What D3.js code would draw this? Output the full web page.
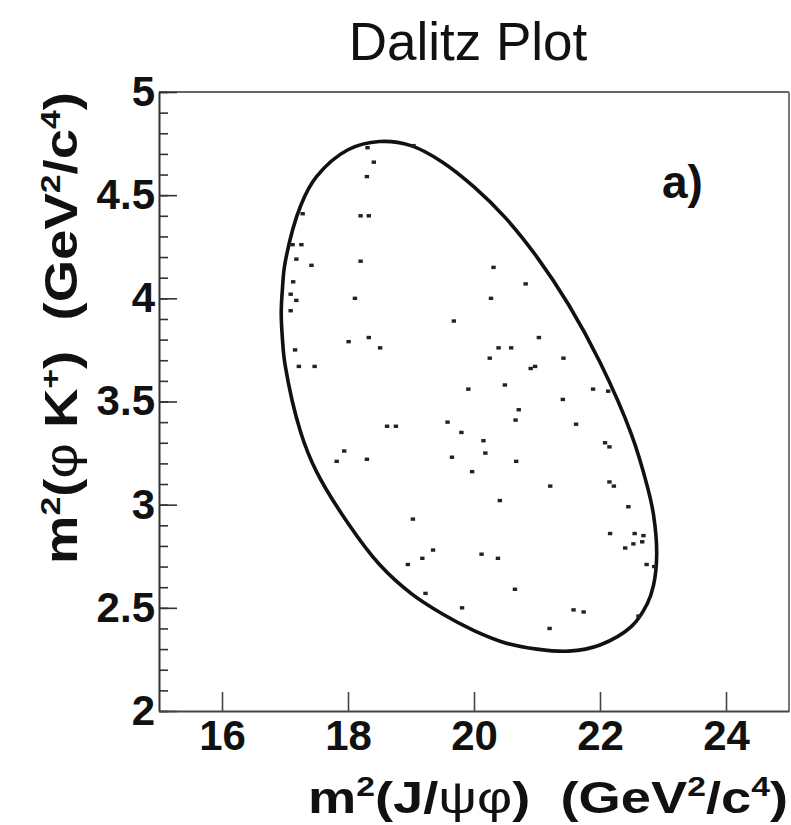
<!DOCTYPE html>
<html>
<head>
<meta charset="utf-8">
<script src="https://cdn.jsdelivr.net/npm/d3@7"></script>
<style>
body { margin: 0; background: #fff; }
text { font-family: "Liberation Sans", Arial, Helvetica, sans-serif; fill: #111; white-space: pre; }
</style>
</head>
<body>
<div id="vis"></div>
<script>
// Dalitz boundary (closed loop, upper branch then lower)
var boundary_x = [16.94, 16.96, 17.00, 17.25, 17.50, 18.00, 18.50, 19.00, 19.50, 20.00, 20.50, 21.00, 21.50, 22.00, 22.50, 22.75, 22.85, 22.90,
                  22.85, 22.75, 22.50, 22.00, 21.50, 21.00, 20.50, 20.00, 19.50, 19.00, 18.50, 18.00, 17.50, 17.25, 17.00, 16.96];
var boundary_y = [3.93, 4.05, 4.17, 4.45, 4.59, 4.72, 4.76, 4.74, 4.66, 4.54, 4.39, 4.20, 3.97, 3.69, 3.34, 3.09, 2.95, 2.76,
                  2.61, 2.52, 2.41, 2.32, 2.29, 2.30, 2.33, 2.39, 2.47, 2.57, 2.71, 2.91, 3.16, 3.35, 3.68, 3.80];

// candidate events
var event_x = [18.31, 18.41, 18.30, 18.20, 18.33, 17.28, 17.12, 17.26, 17.18, 17.42, 18.20, 17.13, 17.09, 17.18, 18.11, 17.09,
               19.68, 18.01, 18.33, 18.51, 17.16, 17.22, 17.47, 19.04, 20.31, 20.82, 20.27, 21.03, 20.39, 20.59, 20.25, 21.42,
               20.97, 20.90, 19.91, 18.62, 18.76, 19.58, 19.80, 17.94, 17.82, 18.30, 19.65, 19.97, 19.03, 19.35, 19.18, 18.95,
               19.23, 19.81, 20.49, 21.41, 21.89, 22.13, 20.71, 20.66, 21.62, 20.15, 20.18, 20.67, 22.08, 22.15, 21.21, 22.15,
               22.22, 20.41, 22.45, 22.16, 22.55, 22.69, 22.40, 22.53, 22.67, 22.74, 22.86, 20.12, 20.38, 20.65, 21.58, 21.74,
               21.20, 22.61];
var event_y = [4.73, 4.66, 4.59, 4.40, 4.40, 4.41, 4.26, 4.26, 4.19, 4.16, 4.18, 4.08, 4.02, 3.99, 4.00, 3.94,
               3.89, 3.79, 3.81, 3.76, 3.75, 3.67, 3.67, 4.74, 4.15, 4.07, 4.00, 3.81, 3.76, 3.76, 3.71, 3.71,
               3.67, 3.66, 3.56, 3.38, 3.38, 3.40, 3.35, 3.26, 3.21, 3.22, 3.23, 3.16, 2.93, 2.78, 2.74, 2.71,
               2.57, 2.50, 3.58, 3.51, 3.56, 3.55, 3.46, 3.41, 3.39, 3.31, 3.25, 3.21, 3.30, 3.28, 3.09, 3.11,
               3.09, 3.02, 2.99, 2.86, 2.86, 2.85, 2.79, 2.81, 2.82, 2.71, 2.70, 2.76, 2.74, 2.59, 2.49, 2.48,
               2.40, 2.46];

var x_ticks = [16, 18, 20, 22, 24];
var y_ticks = [2, 2.5, 3, 3.5, 4, 4.5, 5];
var y_tick_labels = ["2", "2.5", "3", "3.5", "4", "4.5", "5"];

var margin = {top: 92, right: 2, bottom: 114, left: 159},
    width = 791 - margin.left - margin.right,
    height = 825 - margin.top - margin.bottom;

var svg_root = d3.select('#vis')
    .append('svg')
    .attr("width", 791)
    .attr("height", 825);

var svg = svg_root.append("g")
    .attr("transform", "translate(" + margin.left + "," + margin.top + ")");

var x = d3.scaleLinear().domain([15, 25]).range([0, width]),
    y = d3.scaleLinear().domain([2, 5]).range([height, 0]);

// frame (top and right edges, grey)
svg.append("line").attr("x1", 0).attr("x2", width).attr("y1", 0).attr("y2", 0)
    .attr("stroke", "#666").attr("stroke-width", 2);
svg.append("line").attr("x1", width).attr("x2", width).attr("y1", 0).attr("y2", height)
    .attr("stroke", "#777").attr("stroke-width", 2);

// minor y ticks
svg.append("g")
    .attr("class", "y_minor")
    .call(d3.axisLeft(y).ticks(30).tickSize(-9).tickSizeOuter(0).tickFormat(""))
    .call(function(g) { g.select(".domain").remove(); })
    .selectAll("line").attr("stroke", "#333").attr("stroke-width", 1.6);

// major y ticks + labels
var yAxis = svg.append("g")
    .attr("class", "y_axis")
    .call(d3.axisLeft(y).tickValues(y_ticks).tickSize(-18).tickSizeOuter(0).tickPadding(4)
        .tickFormat(function(d, i) { return y_tick_labels[i]; }));
yAxis.selectAll("line").attr("stroke", "#333").attr("stroke-width", 1.6);
yAxis.select(".domain").attr("stroke", "#333").attr("stroke-width", 2);
yAxis.selectAll("text")
    .attr("font-size", 42).attr("font-weight", "bold")
    .attr("font-family", "Liberation Sans, Arial, sans-serif")
    .attr("fill", "#111");

// x axis
var xAxis = svg.append("g")
    .attr("class", "x_axis")
    .attr("transform", "translate(0," + height + ")")
    .call(d3.axisBottom(x).tickValues(x_ticks).tickSize(-19).tickSizeOuter(0).tickPadding(9));
xAxis.selectAll("line").attr("stroke", "#444").attr("stroke-width", 1.6);
xAxis.select(".domain").attr("stroke", "#444").attr("stroke-width", 2);
xAxis.selectAll("text")
    .attr("font-size", 42).attr("font-weight", "bold")
    .attr("font-family", "Liberation Sans, Arial, sans-serif")
    .attr("fill", "#111");

// boundary
var line = d3.line()
    .x(function(d) { return x(d[0]); })
    .y(function(d) { return y(d[1]); })
    .curve(d3.curveCatmullRomClosed.alpha(0.5));

svg.append("path")
    .datum(d3.zip(boundary_x, boundary_y))
    .attr("d", line)
    .attr("fill", "none")
    .attr("stroke", "#111")
    .attr("stroke-width", 3.6);

// events
svg.selectAll(".ev")
    .data(d3.zip(event_x, event_y))
    .enter().append("rect")
    .attr("class", "ev")
    .attr("x", function(d) { return x(d[0]) - 2.2; })
    .attr("y", function(d) { return y(d[1]) - 1.7; })
    .attr("width", 4.4)
    .attr("height", 3.4)
    .attr("fill", "#222");

// rich text helper: parts are [text, kind] with kind n=normal, s=superscript, g=greek (light)
function richText(sel, parts, size) {
    var shift = 0;
    parts.forEach(function(p) {
        var t = sel.append("tspan").text(p[0]);
        var target = p[1] == "s" ? -size * 0.38 : 0;
        t.attr("dy", target - shift);
        shift = target;
        if (p[1] == "s") t.attr("font-size", size * 0.62);
        if (p[1] == "g") t.attr("font-weight", "normal");
    });
}

// x axis title
var xt = svg_root.append("text")
    .attr("x", 788)
    .attr("y", 813)
    .attr("text-anchor", "end")
    .attr("font-size", 45)
    .attr("font-weight", "bold")
    .attr("textLength", 480)
    .attr("lengthAdjust", "spacingAndGlyphs");
richText(xt, [["m", "n"], ["2", "s"], ["(J/", "n"], ["\u03C8\u03C6", "g"], [")  (GeV", "n"], ["2", "s"], ["/c", "n"], ["4", "s"], [")", "n"]], 45);

// y axis title
var yt = svg_root.append("text")
    .attr("transform", "translate(77,92) rotate(-90)")
    .attr("text-anchor", "end")
    .attr("font-size", 46)
    .attr("font-weight", "bold")
    .attr("textLength", 472)
    .attr("lengthAdjust", "spacingAndGlyphs");
richText(yt, [["m", "n"], ["2", "s"], ["(", "n"], ["\u03C6", "g"], [" K", "n"], ["+", "s"], [")  (GeV", "n"], ["2", "s"], ["/c", "n"], ["4", "s"], [")", "n"]], 46);

// title
svg_root.append("text")
    .attr("x", 468)
    .attr("y", 60)
    .attr("text-anchor", "middle")
    .attr("font-size", 53)
    .attr("font-family", "Lato, 'Open Sans', sans-serif")
    .text("Dalitz Plot");

// panel label
svg_root.append("text")
    .attr("x", 662)
    .attr("y", 198)
    .attr("font-size", 46)
    .attr("font-weight", "bold")
    .text("a)");
</script>
</body>
</html>
